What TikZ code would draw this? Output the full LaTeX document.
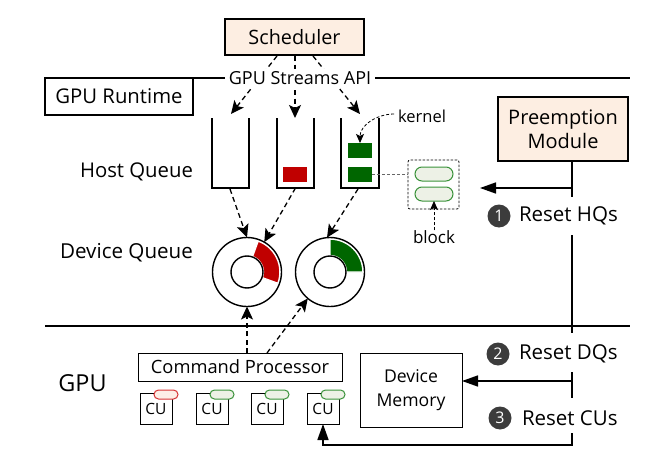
\documentclass[tikz,border=0pt]{standalone}
\usepackage{fontspec}
\setmainfont{Open Sans}
\usetikzlibrary{arrows.meta,calc}
\definecolor{peach}{HTML}{FDEEE2}
\definecolor{qred}{HTML}{C00000}
\definecolor{qgreen}{HTML}{006600}
\definecolor{pillgreen}{HTML}{EDF1E6}
\definecolor{pillborder}{HTML}{3A923A}
\definecolor{pillred}{HTML}{FDEEE6}
\definecolor{pillredb}{HTML}{D63333}
\definecolor{numgray}{HTML}{3C3C3C}
\begin{document}
\begin{tikzpicture}[x=1pt,y=-1pt,
  every node/.style={inner sep=0pt, outer sep=0pt},
  mainfont/.style={font=\fontsize{20.3}{24}\selectfont},
  box/.style={draw, line width=1.3pt, mainfont, align=center},
  thinbox/.style={draw, line width=1pt, align=center},
  qwall/.style={line width=1.4pt},
  dasharrow/.style={line width=1.3pt, dash pattern=on 5pt off 3.5pt, -{Stealth[length=13pt,width=12pt,inset=3pt]}},
  resetarrow/.style={line width=1.5pt, -{Triangle[length=16pt,width=11pt]}},
  resetline/.style={line width=1.5pt},
  sepline/.style={line width=1.3pt},
  numc/.style={circle, fill=numgray, text=white, minimum size=23pt, font=\fontsize{16}{18}\selectfont},
  lbl/.style={font=\fontsize{20.5}{24}\selectfont},
  cubox/.style={draw, line width=0.9pt, minimum width=32pt, minimum height=31pt, font=\fontsize{15.5}{16}\selectfont},
  pill/.style={draw, rounded corners=4.5pt, line width=1pt, minimum width=24pt, minimum height=9pt},
  gpill/.style={pill, draw=pillborder, fill=pillgreen},
  bpill/.style={draw=pillborder, fill=pillgreen, rounded corners=7pt, line width=1pt, minimum width=38pt, minimum height=14pt},
  qblock/.style={minimum width=24pt, minimum height=15pt},
  thindash/.style={line width=0.8pt, dash pattern=on 3pt off 2pt, -{Stealth[length=9pt,width=8pt,inset=2pt]}}
]
\useasboundingbox (0,0) rectangle (657,463);

% separator lines
\draw[sepline] (45,78) -- (630,78);
\draw[sepline] (45,326) -- (630,326);

% top boxes
\node[box, fill=peach, minimum width=139pt, minimum height=36pt, font=\fontsize{19.8}{24}\selectfont] (sched) at (294.5,37) {Scheduler};
\node[box, fill=white, minimum width=148pt, minimum height=37pt, anchor=north west] (rt) at (45,78) {GPU Runtime};
\node[box, fill=peach, minimum width=130pt, minimum height=64pt, font=\fontsize{20}{24}\selectfont] (pm) at (563,129) {Preemption\\Module};

% host queues
\node[minimum width=37pt, minimum height=70pt] (q1) at (230.5,153) {};
\node[minimum width=37pt, minimum height=70pt] (q2) at (295.5,153) {};
\node[minimum width=38pt, minimum height=70pt] (q3) at (360,153) {};
\foreach \q in {q1,q2,q3}
  \draw[qwall] (\q.north west) |- (\q.south east) -- (\q.north east);
\node[qblock, fill=qred] (rb) at (295,174.5) {};
\node[qblock, fill=qgreen] (gb1) at (360,150.5) {};
\node[qblock, fill=qgreen] (gb2) at (360,174) {};

% scheduler arrows
\coordinate (s1) at (277,56);
\coordinate (s2) at (295,56);
\coordinate (s3) at (313,56);
\coordinate (t1) at (231,114);
\coordinate (t3) at (360,114);
\draw[dasharrow] (s1) -- (t1);
\draw[dasharrow] (s2) -- (q2.north -| s2);
\draw[dasharrow] (s3) -- (t3);
\node[fill=white, inner xsep=4pt, inner ysep=2pt, font=\fontsize{18}{22}\selectfont] (api) at (300,78) {GPU Streams API};

% block box
\node[draw, dash pattern=on 2.5pt off 1.5pt, line width=0.8pt, rounded corners=2pt, minimum width=51pt, minimum height=49pt] (blk) at (433.5,184.5) {};
\node[bpill] (bp1) at (434,174) {};
\node[bpill] (bp2) at (434,194) {};
\draw[gray!80!black, line width=0.8pt, dash pattern=on 3pt off 2pt] (gb2.east) -- (gb2.east -| blk.west);
\node[font=\fontsize{16.5}{18}\selectfont] (kern) at (422,116) {kernel};
\node[font=\fontsize{17}{18}\selectfont] (blab) at (434,237) {block};
\draw[thindash] (kern.west) ++(-4,-2) to[out=180,in=90] (gb1.north);
\draw[thindash] (blab.north) -- (bp2.south);

% device queues
\coordinate (c1) at (247,272);
\coordinate (c2) at (330,272);
\fill[qred, draw=white, line width=1.2pt] ($(c1)+(20:16.5)$) arc[start angle=20, end angle=-70, radius=16.5] -- ($(c1)+(-70:32.8)$) arc[start angle=-70, end angle=20, radius=32.8] -- cycle;
\fill[qgreen, draw=white, line width=1.2pt] ($(c2)+(0:16.5)$) arc[start angle=0, end angle=-90, radius=16.5] -- ($(c2)+(-90:32.8)$) arc[start angle=-90, end angle=0, radius=32.8] -- cycle;
\node[circle, draw, line width=1.4pt, minimum size=69pt] (r1) at (c1) {};
\node[circle, draw, line width=1.4pt, minimum size=32pt] (r1i) at (c1) {};
\node[circle, draw, line width=1.4pt, minimum size=69pt] (r2) at (c2) {};
\node[circle, draw, line width=1.4pt, minimum size=32pt] (r2i) at (c2) {};

\draw[dasharrow] (230,189) -- (r1.north);
\draw[dasharrow] (q2.south) -- (r1.60);
\draw[dasharrow] (358,189) -- (r2.95);

% labels left
\node[mainfont] (hq) at (136.5,172) {Host Queue};
\node[font=\fontsize{20.6}{24}\selectfont] (dq) at (126.5,253) {Device Queue};
\node[font=\fontsize{23.4}{26}\selectfont] (gpu) at (82.5,383) {GPU};

% GPU part
\node[thinbox, minimum width=204pt, minimum height=28pt, font=\fontsize{18.3}{20}\selectfont] (cp) at (240,367) {Command Processor};
\node[thinbox, minimum width=102pt, minimum height=74pt, font=\fontsize{17.6}{24}\selectfont] (dm) at (411,390) {Device\\Memory};
\draw[dasharrow] (cp.north -| c1) -- (r1.south);
\draw[dasharrow] (267,353) -- (r2.-130);

\node[cubox] (cu1) at (156,408.5) {CU};
\node[cubox] (cu2) at (212,408.5) {CU};
\node[cubox] (cu3) at (267,408.5) {CU};
\node[cubox] (cu4) at (323,408.5) {CU};
\node[pill, draw=pillredb, fill=pillred] (p1) at ($(cu1.north east)+(-6,1.5)$) {};
\node[gpill] (p2) at ($(cu2.north east)+(-6,1.5)$) {};
\node[gpill] (p3) at ($(cu3.north east)+(-6,1.5)$) {};
\node[gpill] (p4) at ($(cu4.north east)+(-6,1.5)$) {};

% preemption lines
\coordinate (v1) at (572,197);
\coordinate (v2) at (572,235);
\coordinate (v3) at (572,333);
\coordinate (v4) at (572,372);
\coordinate (v5) at (572,398);
\coordinate (v6) at (572,433);
\coordinate (v7) at (572,445);
\coordinate (hqsrc) at (572,188);
\coordinate (hqtip) at (480,188);
\coordinate (dqsrc) at (572,381);
\draw[resetline] (pm.south -| v1) -- (v1);
\draw[resetline] (v2) -- (v3);
\draw[resetline] (v4) -- (v5);
\draw[resetarrow] (v6) -- (v7) -| (cu4.south);
\draw[resetarrow] (hqsrc) -- (hqtip);
\draw[resetarrow] (dqsrc) -- (dqsrc -| dm.east);

\node[numc] (n1) at (499,216) {1};
\node[lbl, anchor=west] (l1) at (519,216) {Reset HQs};
\node[numc] (n2) at (498,354) {2};
\node[lbl, anchor=west] (l2) at (519,354) {Reset DQs};
\node[numc] (n3) at (500,418) {3};
\node[lbl, anchor=west] (l3) at (522,418) {Reset CUs};
\end{tikzpicture}
\end{document}
